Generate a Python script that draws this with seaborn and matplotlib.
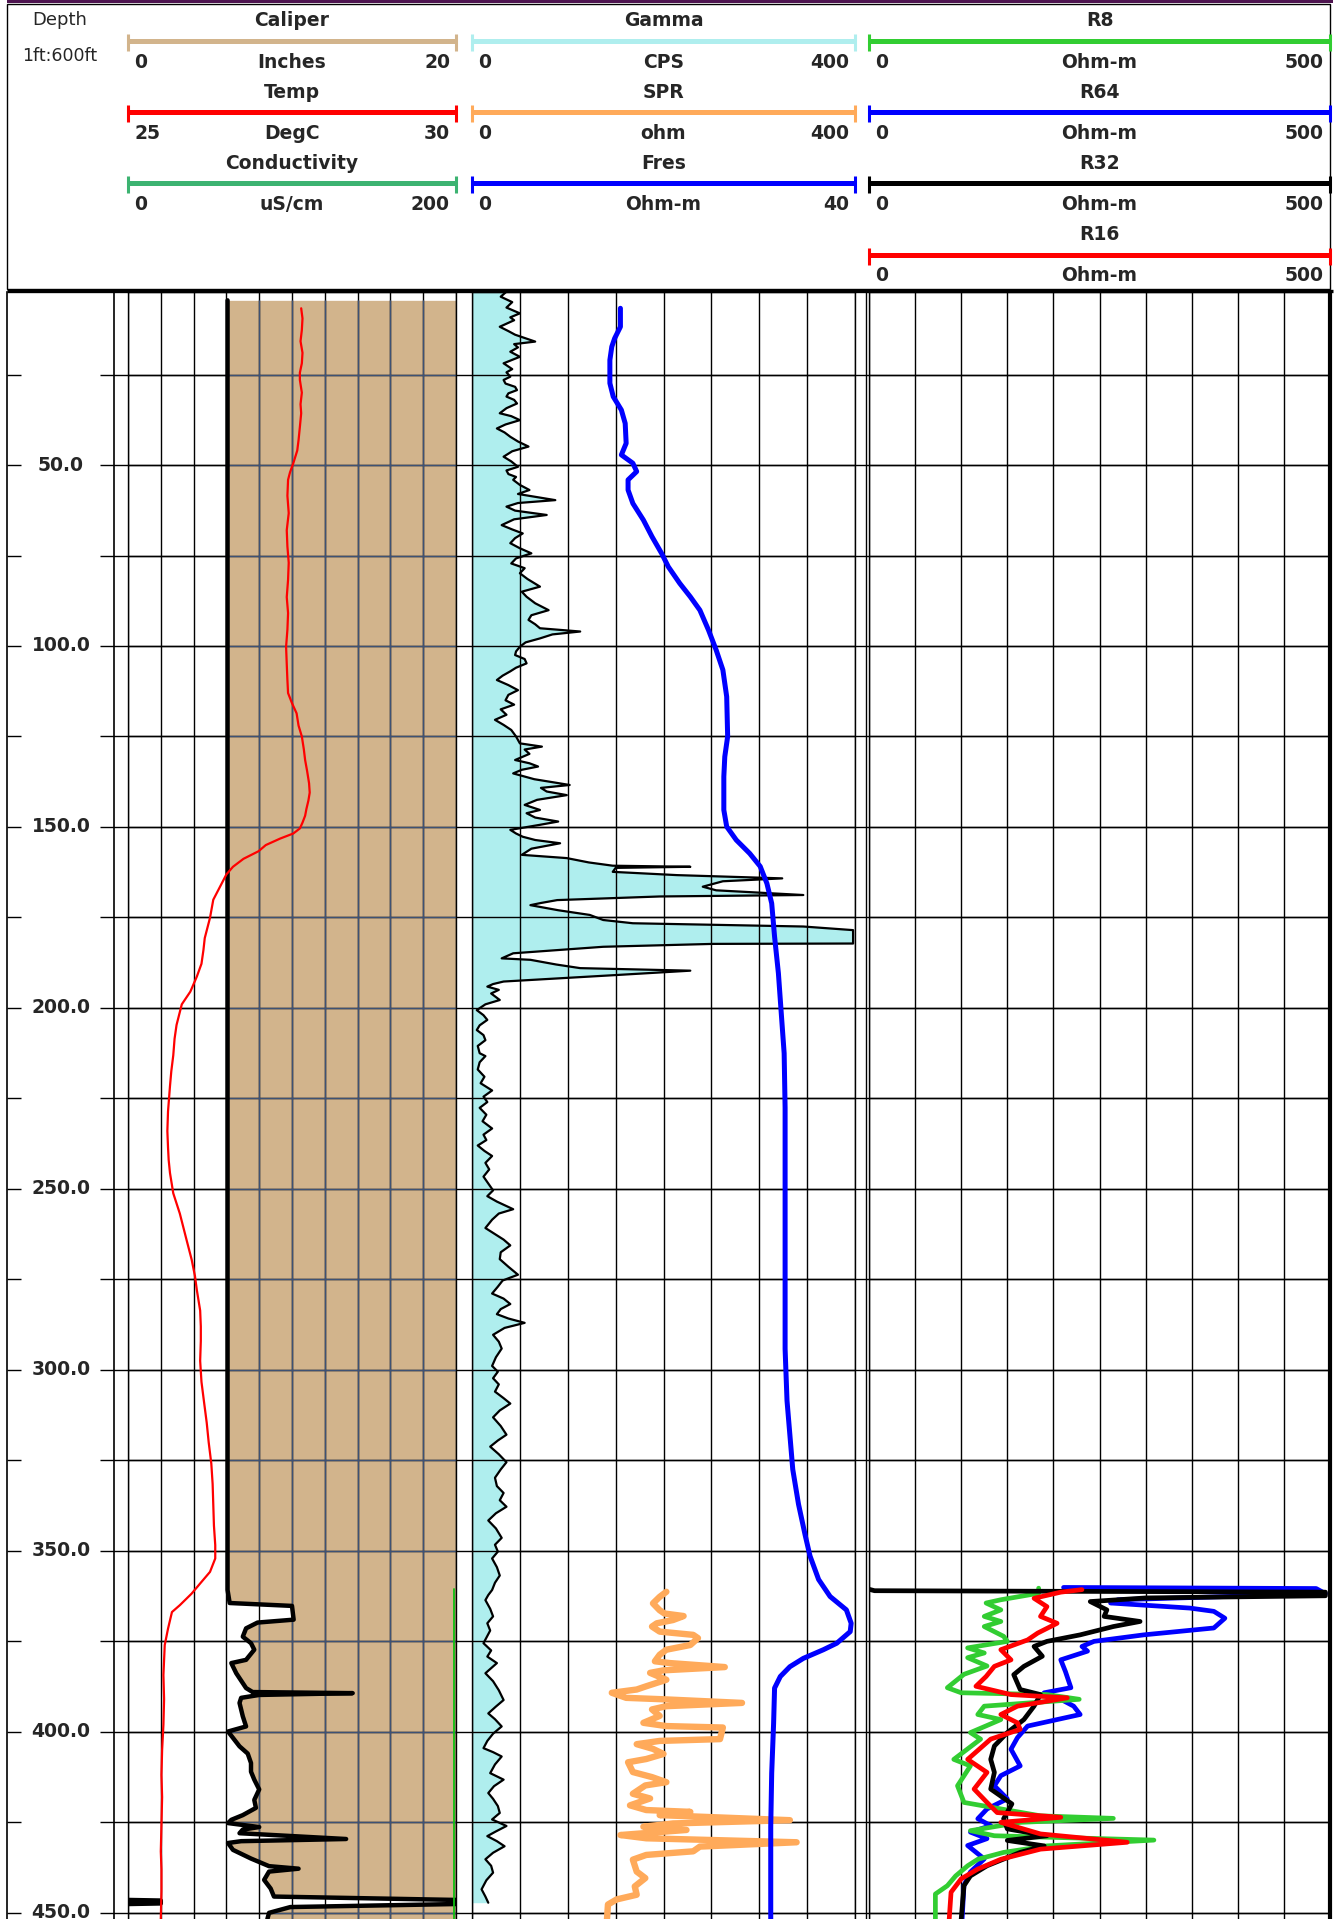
import numpy as np
import pandas as pd
import matplotlib
matplotlib.use("Agg")
import matplotlib.pyplot as plt
from matplotlib.patches import Rectangle
from matplotlib.ticker import MultipleLocator
import seaborn as sns

# visible depth window (ft)
TOP_DEPTH = 2.2
BOTTOM_DEPTH = 451.7
DEPTH_TICKS = list(range(25, 451, 25))
DEPTH_LABELS = list(range(50, 451, 50))

# header definitions, one list per track
TRACK1_NAMES = ["Caliper", "Temp", "Conductivity"]
TRACK1_UNITS = ["Inches", "DegC", "uS/cm"]
TRACK1_LOW = [0, 25, 0]
TRACK1_HIGH = [20, 30, 200]
TRACK1_COLORS = ["#D2B48C", "#FF0000", "#3CB371"]

TRACK2_NAMES = ["Gamma", "SPR", "Fres"]
TRACK2_UNITS = ["CPS", "ohm", "Ohm-m"]
TRACK2_LOW = [0, 0, 0]
TRACK2_HIGH = [400, 400, 40]
TRACK2_COLORS = ["#AFEEEE", "#FFAA5A", "#0000FF"]

TRACK3_NAMES = ["R8", "R64", "R32", "R16"]
TRACK3_UNITS = ["Ohm-m", "Ohm-m", "Ohm-m", "Ohm-m"]
TRACK3_LOW = [0, 0, 0, 0]
TRACK3_HIGH = [500, 500, 500, 500]
TRACK3_COLORS = ["#32CD32", "#0000FF", "#000000", "#FF0000"]

# curves as (depth ft, value)
CALIPER = [(4.5, 6.07), (360.8, 6.07), (364.4, 6.2), (365.2, 10.0), (369.0, 10.1), (369.8, 7.9),
           (371.4, 7.2), (373.7, 7.0), (375.5, 7.5), (377.3, 7.7), (380.1, 7.2), (381.0, 6.3),
           (383.8, 6.6), (387.9, 7.2), (389.0, 7.6), (389.3, 13.7), (389.8, 8.0), (390.6, 6.9),
           (392.0, 6.8), (395.7, 7.0), (398.5, 7.2), (399.9, 6.1), (404.0, 6.8), (406.0, 7.3),
           (408.6, 7.5), (411.0, 7.5), (413.2, 7.7), (415.9, 8.0), (418.8, 7.7), (421.0, 7.8),
           (423.0, 7.0), (424.3, 6.3), (425.2, 6.1), (426.3, 8.0), (427.0, 7.0), (428.0, 6.8),
           (429.6, 13.3), (430.2, 6.9), (430.7, 6.1), (432.6, 6.4), (435.0, 7.5), (437.1, 8.6),
           (437.8, 10.4), (438.6, 8.6), (440.9, 8.3), (443.3, 8.7), (445.5, 8.9), (446.6, 22.0),
           (447.4, 22.0), (448.4, 9.9), (450.0, 8.6), (451.7, 8.5)]

TEMP = [(6.7, 27.64), (9.5, 27.66), (12.7, 27.65), (15.8, 27.63), (19.0, 27.66), (21.9, 27.65),
        (24.5, 27.62), (26.5, 27.62), (30.0, 27.65), (33.2, 27.63), (35.7, 27.64), (39.5, 27.62),
        (43.1, 27.60), (46.0, 27.58), (49.5, 27.52), (52.0, 27.47), (54.1, 27.44), (58.5, 27.43),
        (63.3, 27.45), (68.0, 27.42), (72.5, 27.43), (77.0, 27.45), (81.7, 27.44), (86.5, 27.42),
        (90.9, 27.44), (95.5, 27.43), (100.2, 27.41), (105.0, 27.42), (109.4, 27.43), (113.0, 27.44),
        (115.8, 27.50), (118.6, 27.57), (122.0, 27.60), (125.0, 27.65), (128.5, 27.68), (131.5, 27.70),
        (134.5, 27.73), (137.9, 27.76), (140.5, 27.77), (142.7, 27.75), (145.0, 27.72), (146.9, 27.70),
        (148.8, 27.66), (150.4, 27.62), (151.8, 27.52), (153.2, 27.32), (155.0, 27.10), (156.7, 26.99),
        (158.8, 26.76), (161.0, 26.60), (163.1, 26.50), (166.6, 26.40), (170.1, 26.30), (175.1, 26.25),
        (180.7, 26.17), (184.0, 26.15), (187.8, 26.12), (191.3, 26.05), (195.5, 25.95), (199.0, 25.82),
        (204.7, 25.74), (208.5, 25.71), (213.1, 25.69), (217.5, 25.66), (221.6, 25.64), (228.6, 25.61),
        (234.0, 25.60), (238.5, 25.61), (242.0, 25.62), (245.6, 25.64), (251.2, 25.69), (256.8, 25.79),
        (263.9, 25.89), (269.5, 25.97), (274.0, 26.02), (278.0, 26.05), (283.6, 26.10), (288.0, 26.11),
        (292.0, 26.11), (297.5, 26.10), (303.3, 26.12), (309.0, 26.16), (314.6, 26.20), (320.0, 26.23),
        (325.9, 26.27), (331.5, 26.29), (337.2, 26.30), (343.0, 26.31), (348.4, 26.33), (352.1, 26.33),
        (355.8, 26.25), (359.0, 26.10), (361.8, 25.97), (365.0, 25.79), (366.9, 25.67), (371.5, 25.61),
        (376.0, 25.56), (384.3, 25.54), (391.0, 25.55), (398.0, 25.54), (405.0, 25.52), (411.9, 25.51),
        (418.0, 25.52), (425.7, 25.51), (433.0, 25.50), (438.0, 25.51), (444.0, 25.51), (451.7, 25.50)]

CONDUCTIVITY = [(360.5, 199.0), (400.0, 199.0), (451.7, 199.0)]

GAMMA = [(1.0, 34), (2.1, 36), (3.5, 30), (5.0, 42), (6.5, 36), (8.1, 50), (9.2, 40), (10.0, 44),
         (11.8, 29), (13.0, 38), (14.0, 45), (15.9, 66), (16.6, 44), (17.5, 48), (18.7, 40), (20.1, 50),
         (21.9, 33), (23.5, 42), (24.4, 36), (25.6, 40), (26.5, 33), (27.5, 35), (28.4, 45), (29.3, 47),
         (30.2, 38), (31.1, 36), (32.0, 44), (33.0, 47), (34.3, 36), (35.7, 29), (36.5, 41), (37.6, 50),
         (38.8, 35), (39.9, 26), (41.0, 34), (42.2, 40), (43.5, 48), (44.9, 59), (46.2, 42), (47.7, 33),
         (49.0, 41), (50.5, 48), (51.5, 36), (52.5, 38), (53.3, 46), (54.1, 43), (55.5, 50), (56.9, 60),
         (58.0, 48), (59.7, 87), (60.5, 48), (61.5, 36), (62.6, 45), (63.8, 78), (65.0, 44), (66.6, 31),
         (67.8, 42), (68.9, 53), (70.2, 45), (71.6, 40), (73.0, 50), (74.4, 62), (75.8, 46), (77.2, 41),
         (78.5, 55), (79.9, 50), (81.5, 58), (83.6, 71), (85.0, 52), (86.4, 57), (88.2, 66), (90.1, 80),
         (91.5, 62), (92.8, 59), (94.0, 66), (95.1, 71), (96.0, 113), (96.8, 84), (97.9, 71), (99.0, 56),
         (100.2, 50), (101.5, 46), (102.5, 45), (103.6, 55), (104.8, 57), (106.0, 46), (107.0, 40),
         (108.2, 32), (109.4, 26), (110.8, 38), (112.2, 48), (113.5, 38), (115.0, 35), (116.2, 44),
         (117.5, 30), (119.0, 36), (120.4, 24), (121.8, 33), (123.2, 41), (125.0, 46), (126.9, 50),
         (127.8, 73), (128.6, 55), (129.8, 60), (131.5, 45), (132.4, 60), (133.3, 69), (134.2, 52),
         (135.2, 43), (136.8, 65), (138.4, 102), (139.2, 72), (140.2, 78), (141.2, 99), (142.5, 68),
         (143.9, 55), (145.3, 71), (146.2, 57), (147.4, 66), (148.5, 90), (149.4, 71), (150.8, 40),
         (151.8, 46), (152.7, 53), (153.6, 66), (154.5, 92), (156.0, 62), (157.7, 52), (158.6, 99),
         (159.8, 122), (160.7, 147), (161.0, 228), (161.3, 150), (162.4, 147), (163.3, 214), (164.2, 324),
         (165.0, 262), (166.5, 241), (167.5, 255), (168.8, 346), (169.2, 196), (170.2, 89), (171.0, 72),
         (171.6, 61), (173.0, 90), (174.3, 123), (175.7, 137), (176.6, 168), (177.5, 346), (178.5, 398),
         (182.2, 398), (182.3, 252), (183.1, 137), (184.0, 90), (184.9, 43), (186.3, 31), (186.7, 61),
         (188.0, 88), (189.0, 113), (189.7, 228), (190.3, 190), (190.9, 151), (191.8, 92), (192.7, 33),
         (193.4, 22), (194.1, 16), (195.0, 28), (196.0, 20), (197.8, 29), (199.0, 14), (200.6, 5),
         (202.0, 12), (203.3, 16), (204.8, 8), (206.1, 5), (207.5, 12), (208.9, 14), (210.5, 6),
         (212.5, 8), (213.3, 14), (215.0, 8), (217.0, 6), (219.0, 13), (220.8, 9), (222.8, 21),
         (224.5, 12), (226.0, 16), (227.6, 8), (229.5, 15), (231.3, 11), (233.3, 21), (235.0, 12),
         (236.5, 15), (238.0, 6), (239.5, 13), (240.9, 21), (242.8, 14), (244.6, 18), (246.6, 12),
         (248.5, 17), (250.4, 22), (252.0, 16), (253.5, 26), (255.6, 43), (256.8, 28), (258.5, 21),
         (260.8, 14), (262.5, 24), (264.0, 33), (265.6, 40), (267.5, 30), (269.4, 29), (271.5, 38),
         (273.7, 48), (275.3, 32), (277.0, 27), (278.9, 21), (280.3, 33), (281.8, 40), (283.2, 30),
         (284.6, 26), (285.8, 38), (287.0, 55), (288.4, 34), (290.3, 22), (292.2, 28), (294.1, 31),
         (296.5, 25), (298.9, 21), (300.5, 27), (302.3, 22), (304.0, 28), (306.0, 24), (307.8, 33),
         (309.3, 40), (311.2, 29), (313.1, 22), (315.5, 30), (317.9, 36), (319.5, 27), (321.2, 19),
         (323.3, 28), (325.5, 36), (327.5, 30), (329.8, 24), (332.1, 26), (334.0, 33), (336.0, 29),
         (337.8, 36), (339.6, 25), (341.6, 17), (343.8, 25), (346.4, 31), (348.3, 24), (350.2, 27),
         (352.1, 21), (354.5, 26), (356.8, 29), (358.8, 24), (360.8, 21), (362.2, 17), (363.6, 14),
         (366.0, 19), (368.1, 22), (370.0, 16), (372.0, 19), (375.5, 12), (377.5, 20), (379.2, 16),
         (381.0, 26), (383.8, 14), (386.0, 22), (388.5, 28), (391.2, 33), (393.0, 25), (394.9, 17),
         (396.5, 24), (398.5, 31), (400.5, 22), (402.5, 16), (404.5, 12), (405.6, 22), (406.8, 31),
         (409.0, 24), (411.4, 19), (413.2, 33), (415.0, 23), (416.9, 17), (418.5, 22), (420.5, 27),
         (422.4, 29), (424.2, 21), (426.0, 36), (427.5, 25), (428.8, 16), (430.2, 26), (431.6, 34),
         (433.4, 22), (435.2, 14), (437.0, 20), (438.9, 22), (441.0, 15), (443.5, 10), (445.5, 14),
         (447.2, 17)]

FRES = [(6.7, 15.5), (11.8, 15.5), (15.0, 14.9), (17.3, 14.6), (21.0, 14.4), (27.4, 14.4), (31.1, 14.75),
        (34.8, 15.6), (38.5, 16.0), (44.0, 16.1), (47.2, 15.6), (49.5, 16.8), (51.8, 17.2), (54.1, 16.3),
        (56.9, 16.3), (60.6, 16.8), (65.2, 17.9), (69.8, 18.8), (74.4, 19.8), (78.1, 20.5), (82.7, 21.7),
        (86.4, 22.8), (90.1, 23.8), (95.6, 24.7), (101.1, 25.5), (106.6, 26.2), (114.0, 26.6),
        (125.0, 26.7), (130.6, 26.4), (136.1, 26.3), (145.3, 26.3), (149.9, 26.6), (153.6, 27.6),
        (157.3, 29.0), (160.9, 30.1), (165.6, 30.8), (171.1, 31.3), (180.3, 31.6), (190.4, 32.0),
        (201.5, 32.3), (212.5, 32.6), (227.6, 32.7), (251.4, 32.7), (294.2, 32.7), (308.5, 32.9),
        (318.0, 33.2), (327.5, 33.5), (337.1, 34.1), (345.7, 34.8), (351.4, 35.3), (357.9, 36.2),
        (362.6, 37.4), (366.3, 39.1), (370.0, 39.6), (372.3, 39.5), (375.5, 38.1), (377.3, 36.7),
        (379.7, 34.6), (382.0, 33.2), (384.7, 32.2), (387.9, 31.6), (397.6, 31.5), (411.4, 31.3),
        (426.1, 31.2), (451.7, 31.2)]

SPR = [(361.3, 203), (362.7, 196), (364.5, 189), (366.4, 196), (367.3, 201), (368.0, 221), (369.1, 210),
       (370.0, 193), (370.9, 188), (372.3, 196), (373.2, 231), (374.1, 236), (376.0, 228), (377.3, 203),
       (378.7, 196), (380.5, 191), (381.0, 207), (382.1, 264), (383.0, 200), (383.7, 186), (385.6, 203),
       (387.4, 182), (388.3, 172), (389.2, 146), (390.6, 161), (391.0, 200), (392.0, 282), (392.9, 203),
       (393.8, 188), (395.6, 196), (397.5, 179), (398.4, 203), (398.8, 262), (402.0, 259), (402.5, 196),
       (403.4, 172), (404.7, 189), (406.1, 200), (407.5, 182), (408.4, 163), (411.1, 168), (412.5, 188),
       (413.9, 203), (414.8, 181), (417.1, 168), (418.4, 186), (420.3, 165), (421.6, 182), (422.1, 228),
       (423.0, 196), (424.4, 332), (425.3, 210), (426.2, 179), (427.1, 224), (428.5, 155), (429.4, 182),
       (430.5, 339), (431.7, 238), (433.0, 231), (434.0, 182), (435.3, 168), (438.6, 172), (440.4, 181),
       (442.7, 170), (445.0, 172), (446.3, 151), (447.7, 142), (451.7, 141)]

R8 = [(360.3, 184), (361.7, 184), (363.5, 143), (364.4, 127), (366.3, 143), (368.1, 125), (369.5, 143),
      (370.9, 125), (373.6, 146), (375.0, 150), (376.8, 107), (378.2, 125), (379.5, 107), (381.8, 128),
      (384.1, 103), (387.8, 85), (389.2, 100), (389.7, 193), (391.0, 228), (392.9, 125), (395.2, 118),
      (396.6, 143), (400.2, 110), (402.0, 121), (407.6, 92), (409.4, 110), (414.9, 96), (419.5, 103),
      (423.2, 186), (423.9, 265), (425.0, 164), (427.3, 110), (428.7, 136), (429.9, 309), (431.5, 193),
      (433.3, 146), (435.2, 118), (437.0, 107), (439.8, 94), (442.5, 85), (444.8, 72), (451.7, 72)]

R16 = [(360.7, 231), (361.4, 208), (363.1, 179), (365.4, 193), (368.1, 186), (370.0, 204), (372.7, 183),
       (374.6, 172), (377.3, 143), (380.1, 154), (381.9, 136), (384.7, 127), (387.4, 116), (389.7, 154),
       (390.6, 215), (392.9, 161), (395.2, 143), (397.5, 161), (399.3, 164), (402.0, 132), (407.6, 107),
       (411.2, 128), (415.8, 114), (419.5, 128), (422.3, 139), (423.6, 208), (425.0, 143), (428.2, 186),
       (430.5, 280), (432.4, 186), (435.2, 143), (437.9, 118), (440.6, 100), (444.3, 89), (451.7, 87)]

R32 = [(360.6, 0), (361.0, 6), (361.4, 495), (362.4, 495), (363.0, 300), (364.0, 240), (366.3, 258),
       (368.1, 255), (369.5, 294), (370.9, 265), (373.2, 229), (375.0, 193), (376.4, 179), (379.1, 188),
       (381.9, 168), (384.2, 157), (388.3, 164), (389.7, 186), (392.9, 179), (396.6, 168), (400.2, 150),
       (403.9, 136), (407.6, 132), (411.2, 136), (415.8, 132), (419.9, 155), (424.0, 146), (426.8, 150),
       (428.7, 193), (430.0, 150), (431.5, 190), (433.3, 164), (437.0, 128), (439.8, 110), (442.5, 103),
       (451.7, 100)]

R64 = [(360.1, 211), (360.4, 485), (361.8, 495), (363.5, 270), (364.4, 262), (365.8, 348), (366.7, 374),
       (368.6, 386), (371.3, 374), (373.2, 298), (375.0, 244), (376.4, 231), (377.7, 237), (380.1, 208),
       (383.3, 213), (387.8, 219), (389.2, 190), (391.0, 208), (392.9, 222), (395.2, 229), (398.4, 172),
       (401.6, 161), (404.8, 154), (409.4, 164), (412.1, 143), (414.9, 136), (418.5, 150), (421.3, 128),
       (424.0, 118), (425.9, 132), (427.7, 110), (429.5, 128), (431.4, 107), (435.1, 125), (438.7, 110),
       (442.4, 103), (451.7, 101)]

# ---- page layout in pixels ----
W, H = 1340, 1919
BODY_TOP, BODY_BOTTOM = 292, 1919
TRACK_X = [(128, 456), (472, 855), (869, 1330)]
ROW_STEP = 71.2

sns.set_theme(style="white")
plt.rcParams["font.family"] = ["DejaVu Sans"]

fig = plt.figure(figsize=(W / 100, H / 100), dpi=100)


def px_axes(x0, y0, x1, y1):
    return fig.add_axes([x0 / W, 1 - y1 / H, (x1 - x0) / W, (y1 - y0) / H])


def frame(pairs):
    return pd.DataFrame(pairs, columns=["depth", "value"])


def draw_curve(ax, pairs, color, lw, z=2):
    sns.lineplot(data=frame(pairs), x="value", y="depth", ax=ax, sort=False, orient="y",
                 estimator=None, color=color, linewidth=lw, zorder=z)


def track_axes(x0, x1, lo, hi, ndiv):
    ax = px_axes(x0, BODY_TOP, x1, BODY_BOTTOM)
    ax.set_facecolor("none")
    ax.xaxis.set_major_locator(MultipleLocator((hi - lo) / ndiv))
    ax.yaxis.set_major_locator(MultipleLocator(25))
    ax.set_axisbelow("line")
    ax.grid(True, color="black", lw=1.0)
    ax.tick_params(length=0, labelbottom=False, labelleft=False)
    for sp in ax.spines.values():
        sp.set_color("black")
        sp.set_linewidth(1.0)
    ax.spines["bottom"].set_visible(False)
    return ax


def overlay(ax):
    tw = ax.twiny()
    tw.set_axis_off()
    return tw


# background with the 25 ft lines running through the gaps
ax_bg = px_axes(114, BODY_TOP, 1330, BODY_BOTTOM)
ax_bg.set_xlim(114, 1330)
ax_bg.set_ylim(BOTTOM_DEPTH, TOP_DEPTH)
for d in DEPTH_TICKS:
    ax_bg.axhline(d, color="black", lw=1.0)
ax_bg.axvline(866, color="black", lw=1.0)
ax_bg.set_axis_off()

# depth track
ax_d = px_axes(7, BODY_TOP, 114, BODY_BOTTOM)
ax_d.set_facecolor("none")
ax_d.set_xlim(0, 1)
ax_d.set_ylim(BOTTOM_DEPTH, TOP_DEPTH)
ax_d.set_yticks(DEPTH_TICKS)
ax_d.set_xticks([])
ax_d.tick_params(axis="y", direction="in", length=10, width=1.0, color="black",
                 left=True, right=True, labelleft=False)
for side in ["top", "bottom"]:
    ax_d.spines[side].set_visible(False)
for side in ["left", "right"]:
    ax_d.spines[side].set_color("black")
    ax_d.spines[side].set_linewidth(1.2)
for d in DEPTH_LABELS:
    ax_d.text(0.505, d, f"{d:.1f}", ha="center", va="center", fontsize=13.5,
              fontweight="bold", transform=ax_d.get_yaxis_transform(), clip_on=False)

# track 1: caliper / temp / conductivity
ax_cal = track_axes(*TRACK_X[0], TRACK1_LOW[0], TRACK1_HIGH[0], 10)
cal = frame(CALIPER)
fill = ax_cal.fill_betweenx(cal["depth"], np.minimum(cal["value"], TRACK1_HIGH[0]), TRACK1_HIGH[0],
                            color=TRACK1_COLORS[0], lw=0, zorder=1)
clip = fill.get_paths()[0]
for v in np.arange(2, 20, 2):
    ln = ax_cal.axvline(v, color="#3E5274", lw=1.0, zorder=1.6)
    ln.set_clip_path(clip, ax_cal.transData)
for d in DEPTH_TICKS:
    ln = ax_cal.axhline(d, color="#3E5274", lw=1.0, zorder=1.6)
    ln.set_clip_path(clip, ax_cal.transData)
draw_curve(ax_cal, CALIPER, "black", 3.2, z=3)
# values past full scale wrap back in from the left edge
over = np.where(cal["value"] > TRACK1_HIGH[0])[0]
wrap = cal.iloc[over.min() - 1:over.max() + 2]
wrap_pairs = list(zip(wrap["depth"], wrap["value"] - TRACK1_HIGH[0]))
draw_curve(ax_cal, wrap_pairs, "black", 3.2, z=3)
ax_cal.set_xlim(TRACK1_LOW[0], TRACK1_HIGH[0])

tw_temp = overlay(ax_cal)
draw_curve(tw_temp, TEMP, "#FF0000", 1.6)
tw_temp.set_xlim(TRACK1_LOW[1], TRACK1_HIGH[1])

tw_cond = overlay(ax_cal)
draw_curve(tw_cond, CONDUCTIVITY, "#10C010", 1.3)
tw_cond.set_xlim(TRACK1_LOW[2], TRACK1_HIGH[2])

# track 2: gamma / spr / fres
ax_gam = track_axes(*TRACK_X[1], TRACK2_LOW[0], TRACK2_HIGH[0], 8)
gam = frame(GAMMA)
ax_gam.fill_betweenx(gam["depth"], 0, gam["value"], color=TRACK2_COLORS[0], lw=0, zorder=1)
draw_curve(ax_gam, GAMMA, "black", 1.6, z=3)
ax_gam.set_xlim(TRACK2_LOW[0], TRACK2_HIGH[0])

tw_spr = overlay(ax_gam)
draw_curve(tw_spr, SPR, TRACK2_COLORS[1], 4.6)
tw_spr.set_xlim(TRACK2_LOW[1], TRACK2_HIGH[1])

tw_fres = overlay(ax_gam)
draw_curve(tw_fres, FRES, TRACK2_COLORS[2], 3.6)
tw_fres.set_xlim(TRACK2_LOW[2], TRACK2_HIGH[2])

# track 3: resistivities
ax_res = track_axes(*TRACK_X[2], TRACK3_LOW[0], TRACK3_HIGH[0], 10)
ax_res.spines["right"].set_linewidth(3.0)
draw_curve(ax_res, R64, TRACK3_COLORS[1], 3.4)
draw_curve(ax_res, R8, TRACK3_COLORS[0], 3.4)
draw_curve(ax_res, R32, TRACK3_COLORS[2], 3.4)
draw_curve(ax_res, R16, TRACK3_COLORS[3], 3.4)
ax_res.set_xlim(TRACK3_LOW[0], TRACK3_HIGH[0])

for ax in fig.axes[1:]:
    ax.set_ylim(BOTTOM_DEPTH, TOP_DEPTH)
    ax.set_xlabel("")
    ax.set_ylabel("")

# ---- header ----
ax_h = px_axes(0, 0, W, BODY_TOP)
ax_h.set_xlim(0, W)
ax_h.set_ylim(BODY_TOP, 0)
ax_h.set_axis_off()
ax_h.add_patch(Rectangle((7, 0), 1326, 3.5, color="#4E1450", lw=0))
ax_h.add_patch(Rectangle((7, 4.5), 1323, 284.5, fill=False, ec="black", lw=1.0))
ax_h.plot([7, 1333], [291, 291], color="black", lw=2.4, solid_capstyle="butt", clip_on=False)
ax_h.text(60, 20, "Depth", ha="center", va="center", fontsize=13,
          family=["Liberation Sans Narrow", "DejaVu Sans"])
ax_h.text(60, 56, "1ft:600ft", ha="center", va="center", fontsize=12.5,
          family=["Liberation Sans Narrow", "DejaVu Sans"])

bold = dict(fontsize=13.5, fontweight="bold", va="center")


def header_block(x0, x1, names, units, lows, highs, colors):
    xc = (x0 + x1) / 2
    for r, (name, unit, lo, hi, col) in enumerate(zip(names, units, lows, highs, colors)):
        ty = 21 + ROW_STEP * r
        by = 41 + ROW_STEP * r
        ly = 62 + ROW_STEP * r
        ax_h.text(xc, ty, name, ha="center", **bold)
        ax_h.plot([x0, x1], [by, by], color=col, lw=3.6, solid_capstyle="butt")
        for xe in (x0, x1):
            ax_h.plot([xe, xe], [by - 7, by + 10], color=col, lw=2.2, solid_capstyle="butt")
        ax_h.text(x0 + 6, ly, str(lo), ha="left", **bold)
        ax_h.text(xc, ly, unit, ha="center", **bold)
        ax_h.text(x1 - 6, ly, str(hi), ha="right", **bold)


header_block(*TRACK_X[0], TRACK1_NAMES, TRACK1_UNITS, TRACK1_LOW, TRACK1_HIGH, TRACK1_COLORS)
header_block(*TRACK_X[1], TRACK2_NAMES, TRACK2_UNITS, TRACK2_LOW, TRACK2_HIGH, TRACK2_COLORS)
header_block(*TRACK_X[2], TRACK3_NAMES, TRACK3_UNITS, TRACK3_LOW, TRACK3_HIGH, TRACK3_COLORS)

fig.savefig("out.png", dpi=100)
